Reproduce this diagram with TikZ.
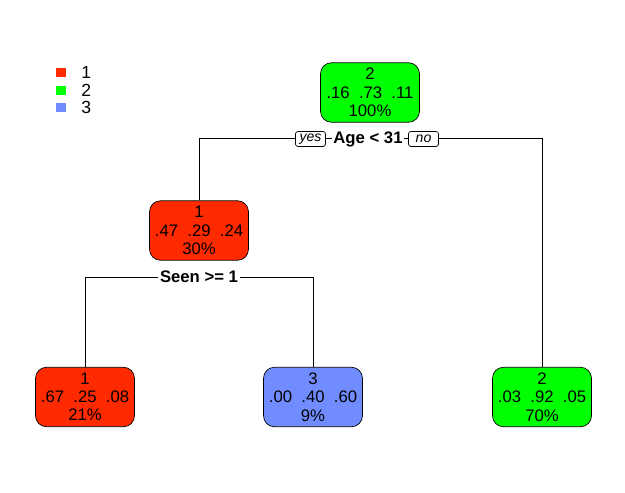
\documentclass[tikz,border=0pt]{standalone}
\usepackage{fontspec}
\setmainfont{Liberation Sans}
\definecolor{clsone}{RGB}{255,42,0}
\definecolor{clstwo}{RGB}{0,255,0}
\definecolor{clsthree}{RGB}{112,140,255}
\begin{document}
\begin{tikzpicture}[x=0.02cm,y=-0.02cm,
  treenode/.style={draw,rounded corners=0.22cm,minimum width=1.98cm,minimum height=1.19cm,
    align=center,font=\fontsize{9.5}{10.4}\selectfont,inner sep=1pt},
  splitlbl/.style={fill=white,font=\fontsize{9.5}{10}\selectfont\bfseries,inner sep=1pt},
  yesno/.style={draw,fill=white,rounded corners=0.05cm,font=\fontsize{8}{8}\selectfont\itshape,
    minimum width=0.6cm,minimum height=0.3cm,inner sep=1pt},
  legbox/.style={minimum size=0.19cm,inner sep=0pt},
  leglbl/.style={anchor=west,font=\fontsize{10}{10}\selectfont,inner sep=0pt}]
  \useasboundingbox (0,0) rectangle (625,493);

  % legend
  \foreach \k/\c/\y in {1/clsone/72.5,2/clstwo/90.5,3/clsthree/107.5}{
    \node[legbox,fill=\c] (leg\k) at (61,\y) {};
    \node[leglbl] (legtxt\k) at (81,\y) {\k};
  }

  % tree nodes
  \node[treenode,fill=clstwo] (root) at (370,92.5) {2\\.16\ \ .73\ \ .11\\100\%};
  \node[treenode,fill=clsone] (left) at (199,230.5) {1\\.47\ \ .29\ \ .24\\30\%};
  \node[treenode,fill=clsone] (leafLL) at (85,397) {1\\.67\ \ .25\ \ .08\\21\%};
  \node[treenode,fill=clsthree] (leafLR) at (313,397) {3\\.00\ \ .40\ \ .60\\9\%};
  \node[treenode,fill=clstwo] (leafR) at (542,397) {2\\.03\ \ .92\ \ .05\\70\%};

  % splits
  \draw (left.north) -- ++(0,-62) -| (leafR.north);
  \draw (leafLL.north) -- ++(0,-90) -| (leafLR.north);

  \node[splitlbl] (age) at (368,139) {Age < 31};
  \node[yesno] (yes) at (310.5,139) {yes};
  \node[yesno] (no) at (423.5,139) {no};
  \node[splitlbl] (seen) at (199,277) {Seen >= 1};
\end{tikzpicture}
\end{document}
